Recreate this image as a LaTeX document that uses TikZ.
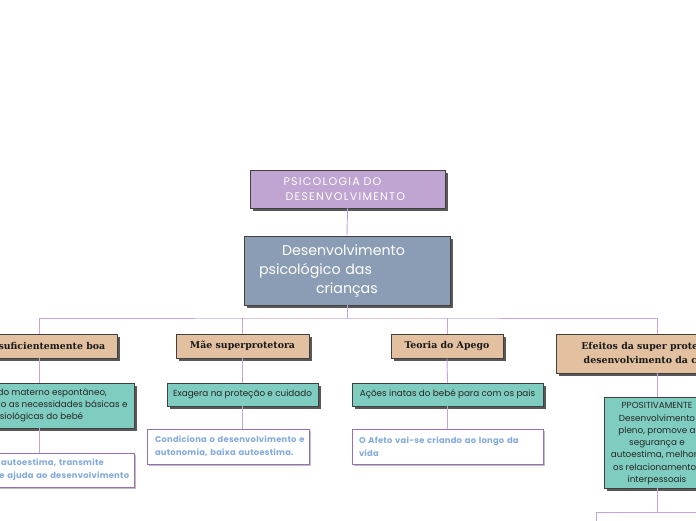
\documentclass[tikz,border=0pt]{standalone}
\usepackage{fontspec}
\setmainfont{Poppins}
\newfontfamily\headfont{DejaVu Serif}
\newfontfamily\wideletters{Poppins}[LetterSpace=11]
\newfontfamily\noteletters{Poppins}[LetterSpace=3]
\usetikzlibrary{shadows,positioning}
\definecolor{mylilac}{RGB}{196,164,218}
\definecolor{mypurple}{RGB}{192,164,210}
\definecolor{myslate}{RGB}{139,157,181}
\definecolor{mytan}{RGB}{226,192,160}
\definecolor{myteal}{RGB}{127,205,192}
\definecolor{myblue}{RGB}{132,170,220}
\definecolor{myedge}{RGB}{150,112,182}
\tikzstyle{box}=[draw=black!75,line width=0.7pt,rectangle,inner sep=0pt,
  drop shadow={shadow xshift=2.5pt,shadow yshift=-2.5pt,fill=black!65,opacity=1}]

\begin{document}
\begin{tikzpicture}[
  x=1pt,y=-1pt,
  link/.style={draw=mylilac,line width=0.9pt},
  topbox/.style={box,fill=mypurple,text=white,
    font=\wideletters\fontsize{11.1}{14.5}\selectfont,align=left},
  mainbox/.style={box,fill=myslate,text=white,
    font=\fontsize{14.2}{19}\selectfont,align=left},
  headbox/.style={box,fill=mytan,text=black!90,
    font=\headfont\bfseries\fontsize{9.4}{13.5}\selectfont,align=center},
  tealbox/.style={box,fill=myteal,text=black!85,
    font=\fontsize{8.8}{12.3}\selectfont},
  notebox/.style={draw=myedge,line width=0.8pt,fill=white,rectangle,inner sep=0pt,
    drop shadow={shadow xshift=1.5pt,shadow yshift=-1.5pt,fill=black!25,opacity=1},
    text=myblue,font=\noteletters\bfseries\fontsize{8.35}{13}\selectfont,align=left}
]
\useasboundingbox (0,0) rectangle (696,520);
\clip (0,0) rectangle (696,520);

% root and main topic
\node [topbox,minimum width=195pt,minimum height=38pt,text width=170pt] (psi) at (347.5,189)
  {\hspace*{21pt}PSICOLOGIA DO\\\hspace*{23pt}DESENVOLVIMENTO};
\node [mainbox,minimum width=206pt,minimum height=69pt,text width=190pt] (dev) at (347,270.5)
  {\hspace*{30pt}Desenvolvimento\\\hspace*{7pt}psicológico das\\\hspace*{64pt}crianças};

% first level
\node [headbox,minimum width=156pt,minimum height=24pt] (boa) at (39,346)
  {Mãe suficientemente boa};
\node [headbox,minimum width=133pt,minimum height=24pt] (sup) at (242.5,346)
  {Mãe superprotetora};
\node [headbox,minimum width=112pt,minimum height=24pt] (ape) at (447,346)
  {Teoria do Apego};
\node [headbox,minimum width=202pt,minimum height=39pt] (efe) at (657,353.5)
  {Efeitos da super proteção no\\desenvolvimento da criança};

% second level
\node [tealbox,minimum width=190pt,minimum height=45pt,align=center] (boa2) at (39,405.5)
  {Cuidado materno espontâneo,\\satisfazendo as necessidades básicas e\\fisiológicas do bebé};
\node [tealbox,minimum width=151pt,minimum height=23pt,align=center] (sup2) at (242.5,394.5)
  {Exagera na proteção e cuidado};
\node [tealbox,minimum width=191pt,minimum height=23pt,align=center] (ape2) at (447.5,394.5)
  {Ações inatas do bebé para com os pais};
\node [tealbox,minimum width=106pt,minimum height=91pt,align=center,text depth=-6pt] (efe2) at (657,442.5)
  {PPOSITIVAMENTE\\Desenvolvimento\\pleno, promove a\\segurança e\\autoestima, melhora\\os relacionamentos\\interpessoais};

% third level
\node [notebox,minimum width=190pt,minimum height=34pt,text width=182pt] (boa3) at (39,470)
  {\mbox{Aumenta a autoestima, transmite}\\\mbox{segurança e ajuda ao desenvolvimento}};
\node [notebox,minimum width=162pt,minimum height=35pt,text width=146pt] (sup3) at (228,446.5)
  {\mbox{Condiciona o desenvolvimento e}\\\mbox{autonomia, baixa autoestima.}};
\node [notebox,minimum width=191pt,minimum height=35pt,text width=177pt] (ape3) at (447.5,446.5)
  {\mbox{O Afeto vai-se criando ao longo da}\\vida};

\coordinate (bar) at (347,318);
\coordinate (efe3) at (596,530);

% connectors
\draw [link] (psi.south) -- (dev.north);
\draw [link] (dev.south) -- (bar);
\draw [link] (boa.north) |- (bar) -| (efe.north);
\draw [link] (sup.north) -- (sup.north |- bar);
\draw [link] (ape.north) -- (ape.north |- bar);
\draw [link] (boa.south) -- (boa2.north);
\draw [link] (boa2.south) -- (boa3.north);
\draw [link] (sup.south) -- (sup2.north);
\draw [link] (sup2.south) -- (sup2.south |- sup3.north);
\draw [link] (ape.south) -- (ape2.north);
\draw [link] (ape2.south) -- (ape3.north);
\draw [link] (efe.south) -- (efe2.north);
\draw [link] (efe2.south) -- ++(0,24) -| (efe3);
\draw [link] (efe2.south) ++(0,24) -- ++(60,0);

\end{tikzpicture}
\end{document}
